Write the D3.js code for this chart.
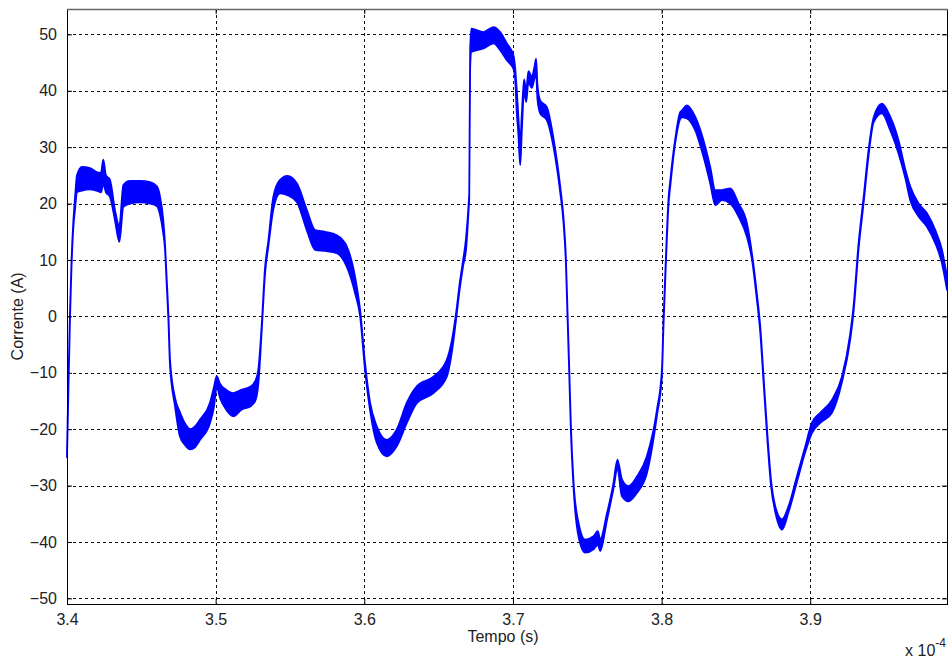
<!DOCTYPE html>
<html>
<head>
<meta charset="utf-8">
<script src="https://cdn.jsdelivr.net/npm/d3@7"></script>
<style>
    body { margin: 0; background: #fff; }
    text { font-family: Arial, "Liberation Sans", sans-serif; fill: #222; }
</style>
</head>
<body>
<div id="chart"></div>
<script>
'use strict';

// time in units of 1e-4 s (axis shows "x 10^-4")
const timeValues = [
    3.4000, 3.4010, 3.4020, 3.4030, 3.4042, 3.4054, 3.4067, 3.4101, 3.4155, 3.4209,
    3.4229, 3.4244, 3.4262, 3.4289, 3.4323, 3.4352, 3.4379, 3.4424, 3.4491, 3.4559,
    3.4606, 3.4626, 3.4646, 3.4659, 3.4671, 3.4682, 3.4693, 3.4727, 3.4760, 3.4794,
    3.4828, 3.4861, 3.4895, 3.4962, 3.4989, 3.5007, 3.5030, 3.5070, 3.5119, 3.5176,
    3.5232, 3.5266, 3.5287, 3.5310, 3.5332, 3.5355, 3.5388, 3.5433, 3.5483, 3.5546,
    3.5613, 3.5669, 3.5736, 3.5815, 3.5882, 3.5938, 3.5972, 3.6005, 3.6039, 3.6084,
    3.6151, 3.6219, 3.6286, 3.6353, 3.6465, 3.6555, 3.6591, 3.6622, 3.6640, 3.6665,
    3.6685, 3.6702, 3.6706, 3.6712, 3.6720, 3.6801, 3.6869, 3.6914, 3.6959, 3.7003,
    3.7015, 3.7026, 3.7035, 3.7049, 3.7060, 3.7075, 3.7089, 3.7104, 3.7127, 3.7143,
    3.7156, 3.7165, 3.7183, 3.7228, 3.7273, 3.7318, 3.7340, 3.7356, 3.7367, 3.7379,
    3.7390, 3.7408, 3.7441, 3.7486, 3.7542, 3.7571, 3.7587, 3.7632, 3.7676, 3.7703,
    3.7733, 3.7777, 3.7834, 3.7901, 3.7968, 3.8002, 3.8013, 3.8029, 3.8047, 3.8058,
    3.8092, 3.8125, 3.8137, 3.8170, 3.8226, 3.8282, 3.8327, 3.8361, 3.8406, 3.8462,
    3.8518, 3.8574, 3.8608, 3.8641, 3.8664, 3.8686, 3.8713, 3.8736, 3.8765, 3.8810,
    3.8854, 3.8910, 3.8966, 3.9011, 3.9067, 3.9146, 3.9213, 3.9269, 3.9291, 3.9325,
    3.9359, 3.9392, 3.9426, 3.9482, 3.9538, 3.9594, 3.9640, 3.9673, 3.9729, 3.9785,
    3.9841, 3.9886, 3.9920
];

// upper edge of the ripple band (A)
const upperValues = [
    -24.0, -11.5, 0.5, 9.5, 16.5, 21.0, 25.0, 26.5, 26.3, 25.5,
    25.5, 27.8, 25.0, 24.2, 18.8, 16.0, 23.3, 24.0, 24.0, 23.8,
    23.0, 21.2, 17.5, 13.0, 6.5, 0.5, -7.7, -14.5, -17.0, -19.0,
    -20.0, -19.5, -18.3, -15.3, -12.5, -10.6, -12.0, -13.0, -13.6, -13.0,
    -12.5, -11.5, -9.5, -1.5, 8.5, 13.5, 21.2, 24.2, 24.9, 23.6,
    18.9, 15.3, 15.0, 14.4, 12.4, 7.0, 1.1, -8.3, -15.3, -19.5,
    -21.9, -20.0, -15.3, -12.4, -10.7, -7.7, -4.0, 1.5, 5.5, 10.0,
    14.0, 20.0, 22.0, 47.0, 51.0, 50.4, 51.3, 50.4, 48.4, 46.3,
    44.0, 40.0, 36.0, 31.0, 36.0, 42.0, 40.0, 43.5, 42.5, 44.0,
    45.7, 41.0, 38.3, 37.1, 31.5, 23.0, 17.5, 10.5, 1.0, -9.5,
    -19.5, -29.5, -36.6, -39.6, -39.0, -38.1, -39.5, -35.0, -29.6, -25.4,
    -28.9, -30.1, -28.4, -24.8, -16.7, -9.5, -0.5, 10.5, 21.0, 24.0,
    31.5, 36.2, 36.5, 37.4, 35.4, 31.2, 26.5, 22.4, 22.4, 22.7,
    20.0, 16.5, 11.1, 4.0, -1.9, -10.7, -21.4, -29.0, -33.7, -36.0,
    -33.7, -28.4, -23.1, -18.9, -17.1, -14.8, -10.7, -3.1, 1.7, 12.9,
    21.1, 29.4, 35.2, 37.7, 35.4, 31.2, 26.0, 23.0, 20.0, 18.3,
    15.3, 11.8, 7.0
];

// lower edge of the ripple band (A)
const lowerValues = [
    -25.0, -12.5, -0.5, 8.5, 15.5, 19.0, 22.0, 22.3, 22.5, 22.2,
    22.0, 23.5, 22.0, 21.2, 17.0, 13.2, 19.4, 20.0, 20.2, 20.0,
    19.5, 18.0, 15.0, 12.0, 5.5, -0.5, -8.7, -16.0, -21.3, -22.8,
    -23.6, -23.2, -21.9, -18.9, -16.0, -12.5, -14.5, -16.5, -17.7, -16.5,
    -16.0, -15.0, -12.0, -2.5, 7.5, 12.5, 19.0, 21.8, 21.5, 20.3,
    15.3, 11.8, 11.6, 11.2, 8.8, 4.1, 0.0, -9.5, -16.7, -22.4,
    -24.8, -23.0, -18.9, -15.4, -13.6, -10.7, -6.0, 0.5, 4.5, 9.0,
    12.0, 19.0, 21.0, 44.0, 46.9, 47.5, 48.4, 47.2, 45.4, 43.9,
    42.0, 36.0, 33.0, 26.8, 33.0, 40.0, 38.0, 41.5, 40.5, 42.0,
    43.0, 38.5, 36.0, 34.8, 30.0, 22.0, 16.7, 9.5, 0.0, -10.5,
    -20.5, -30.5, -39.0, -41.9, -41.3, -40.5, -41.6, -36.2, -30.6, -27.0,
    -31.9, -32.8, -31.3, -27.8, -17.7, -10.5, -1.5, 9.5, 20.0, 23.0,
    30.8, 35.0, 35.3, 35.1, 33.0, 28.3, 23.6, 19.7, 20.6, 20.0,
    17.7, 14.1, 10.1, 3.0, -2.9, -11.7, -22.4, -30.0, -34.7, -37.8,
    -34.7, -29.4, -24.1, -20.7, -18.9, -17.1, -11.7, -4.1, 0.7, 11.9,
    20.1, 28.4, 34.4, 36.0, 33.0, 28.9, 24.5, 20.6, 17.7, 15.9,
    13.0, 9.4, 4.7
];

const xTickValues = [3.4, 3.5, 3.6, 3.7, 3.8, 3.9];
const yTickValues = [-50, -40, -30, -20, -10, 0, 10, 20, 30, 40, 50];

const xLabel = 'Tempo (s)';
const yLabel = 'Corrente (A)';

const width = 952, height = 660;
const margin = {top: 9, right: 5, bottom: 56, left: 67};
const innerW = width - margin.left - margin.right;
const innerH = height - margin.top - margin.bottom;

let svg = d3.select('#chart').append('svg')
    .attr('width', width)
    .attr('height', height);

let g = svg.append('g')
    .attr('transform', `translate(${margin.left},${margin.top})`);

let x = d3.scaleLinear().domain([3.4, 3.992]).range([0, innerW]);
let y = d3.scaleLinear().domain([-51, 54.5]).range([innerH, 0]);

// dotted grid
let grid = g.append('g').attr('class', 'grid')
    .attr('stroke', '#111')
    .attr('stroke-width', 1)
    .attr('stroke-dasharray', '3,3');
grid.selectAll('line.gx').data(xTickValues).join('line')
    .attr('class', 'gx')
    .attr('x1', d => Math.round(x(d)) + 0.5).attr('x2', d => Math.round(x(d)) + 0.5)
    .attr('y1', 0).attr('y2', innerH);
grid.selectAll('line.gy').data(yTickValues).join('line')
    .attr('class', 'gy')
    .attr('x1', 0).attr('x2', innerW)
    .attr('y1', d => Math.round(y(d)) + 0.5).attr('y2', d => Math.round(y(d)) + 0.5);

// current waveform: ripple band between lower and upper envelope
let data = timeValues.map((t, i) => ({t: t, hi: upperValues[i], lo: lowerValues[i]}));

let area = d3.area()
    .curve(d3.curveMonotoneX)
    .x(d => x(d.t))
    .y0(d => y(d.lo))
    .y1(d => y(d.hi));

g.append('path')
    .datum(data)
    .attr('d', area)
    .attr('fill', '#0000ff')
    .attr('stroke', '#0000ff')
    .attr('stroke-width', 1.8)
    .attr('stroke-linejoin', 'round');

// axes with inward ticks on all four sides (box on)
let tickLen = 5;
let axisBottom = d3.axisBottom(x).tickValues(xTickValues).tickSizeInner(-tickLen).tickSizeOuter(0)
    .tickPadding(10).tickFormat(d3.format('.1f'));
let axisLeft = d3.axisLeft(y).tickValues(yTickValues).tickSizeInner(-tickLen).tickSizeOuter(0)
    .tickPadding(10).tickFormat(d3.format('d'));
let axisTop = d3.axisTop(x).tickValues(xTickValues).tickSizeInner(-tickLen).tickSizeOuter(0).tickFormat('');
let axisRight = d3.axisRight(y).tickValues(yTickValues).tickSizeInner(-tickLen).tickSizeOuter(0).tickFormat('');

function styleAxis(sel) {
    sel.select('.domain').remove();
    sel.selectAll('line').attr('stroke', '#000');
    sel.selectAll('text')
        .attr('fill', '#222')
        .style('font-size', '16px')
        .style('font-family', 'Arial, "Liberation Sans", sans-serif');
}

g.append('g').attr('transform', `translate(0,${innerH})`).call(axisBottom).call(styleAxis);
g.append('g').call(axisLeft).call(styleAxis);
g.append('g').call(axisTop).call(styleAxis);
g.append('g').attr('transform', `translate(${innerW},0)`).call(axisRight).call(styleAxis);

// axes box
g.append('rect')
    .attr('x', 0.5).attr('y', 0.5)
    .attr('width', innerW).attr('height', innerH)
    .attr('fill', 'none')
    .attr('stroke', '#000')
    .attr('stroke-width', 1);
g.append('line')
    .attr('x1', 0).attr('x2', innerW + 1)
    .attr('y1', 0.5).attr('y2', 0.5)
    .attr('stroke', '#666')
    .attr('stroke-width', 1.5);

// axis labels
svg.append('text')
    .attr('x', margin.left + innerW / 2 - 4)
    .attr('y', 642)
    .attr('text-anchor', 'middle')
    .style('font-size', '16px')
    .text(xLabel);

svg.append('text')
    .attr('transform', `translate(23,${margin.top + y(0)}) rotate(-90)`)
    .attr('text-anchor', 'middle')
    .style('font-size', '16px')
    .text(yLabel);

// exponent label "x 10^-4"
let expo = svg.append('text')
    .attr('x', 946)
    .attr('y', 656)
    .attr('text-anchor', 'end')
    .style('font-size', '16px');
expo.append('tspan').text('x 10');
expo.append('tspan').attr('dy', -9).style('font-size', '12px').text('-4');
</script>
</body>
</html>
